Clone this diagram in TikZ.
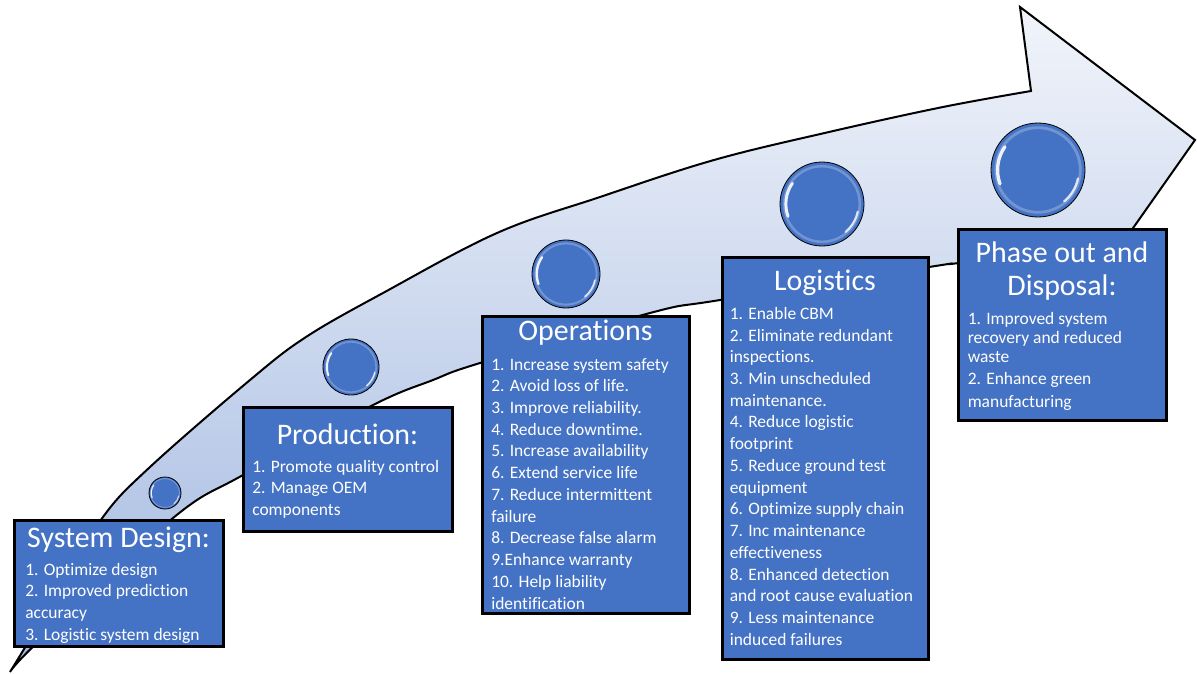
\documentclass[tikz,border=0pt]{standalone}
\usepackage{fontspec}
\setmainfont{Carlito}[Ligatures=NoCommon]
\definecolor{boxblue}{HTML}{4472C4}
\definecolor{arrowtop}{HTML}{F1F4FA}
\definecolor{arrowbot}{HTML}{A3B9E1}
\tikzset{
  panel/.style={draw=black, line width=2.25pt, fill=boxblue, inner sep=0pt},
  ttl/.style={text=white, font=\fontsize{22.4}{25}\selectfont, inner sep=0pt, anchor=base},
  itm/.style={text=white, font=\fontsize{13.1}{16.3}\selectfont, inner sep=0pt, anchor=base west},
  bubble/.style={circle, draw=black, line width=0.6pt, fill=boxblue, inner sep=0pt},
  gloss/.style={white, line cap=round}
}
\newcommand\itemlist[1]{\begin{tabular}[t]{@{}l@{}}#1\end{tabular}}
\newcommand\bubble[4]{%
  \node[bubble, minimum size={1.5*#4pt}] (#1) at (#2,#3) {};
  \begin{scope}[shift={(#1.center)}, x=0.75pt, y=0.75pt]
    \draw[white, opacity=0.25, line width={0.06*#4*0.75pt}] (0,0) circle[radius={0.9*#4}];
    \draw[gloss, opacity=0.9, line width={0.07*#4*0.75pt}] (145:{0.86*#4}) arc[start angle=145, end angle=200, radius={0.86*#4}];
    \draw[gloss, opacity=0.8, line width={0.05*#4*0.75pt}] (-12:{0.87*#4}) arc[start angle=-12, end angle=-50, radius={0.87*#4}];
  \end{scope}}
\begin{document}
\begin{tikzpicture}[x=0.75pt, y=-0.75pt]
\useasboundingbox (0,0) rectangle (1197,674);

% big curved arrow
\path[draw=black, line width=1.5pt, line join=miter, top color=arrowtop, bottom color=arrowbot]
  plot[smooth, tension=0.6] coordinates {(10,672) (60,590) (103,517) (150,467) (250,380) (306,337) (383,293) (497,233) (600,197) (714,160) (829,132) (943,107) (1031,91)}
  -- (1020,7) -- (1195,140) -- (1100,275)
  -- plot[smooth, tension=0.6] coordinates {(1090,247) (959,263) (929,267) (720,300) (650,313) (480,363) (433,380) (373,405) (243,475) (173,518) (40,640) (10,672)}
  -- cycle;

% bubbles
\bubble{c1}{165}{493}{16}
\bubble{c2}{351}{367}{28}
\bubble{c3}{566}{274}{34}
\bubble{c4}{822}{204}{42}
\bubble{c5}{1038}{170}{47}

% System Design
\node[panel, minimum width=156.75pt, minimum height=94.5pt] (sd) at (118.5,583) {};
\node[ttl] (sdt) at (118.5,547) {System Design:};
\node[itm] (sdi) at (25,575) {\itemlist{1. Optimize design\\2. Improved prediction\\accuracy\\3. Logistic system design}};

% Production
\node[panel, minimum width=156.75pt, minimum height=93pt] (pr) at (347.5,469) {};
\node[ttl] (prt) at (347.5,444) {Production:};
\node[itm] (pri) at (252,472) {\itemlist{1. Promote quality control\\2. Manage OEM\\components}};

% Operations
\node[panel, minimum width=155.25pt, minimum height=222.75pt] (op) at (585.5,464.5) {};
\node[ttl] (opt) at (585.5,340) {Operations};
\node[itm] (opi) at (491,370) {\itemlist{1. Increase system safety\\2. Avoid loss of life.\\3. Improve reliability.\\4. Reduce downtime.\\5. Increase availability\\6. Extend service life\\7. Reduce intermittent\\failure\\8. Decrease false alarm\\9.Enhance warranty\\10. Help liability\\identification}};

% Logistics
\node[panel, minimum width=154.5pt, minimum height=301.5pt] (lg) at (825,458) {};
\node[ttl] (lgt) at (825,290.7) {Logistics};
\node[itm] (lgi) at (729.5,319.3) {\itemlist{1. Enable CBM\\2. Eliminate redundant\\inspections.\\3. Min unscheduled\\maintenance.\\4. Reduce logistic\\footprint\\5. Reduce ground test\\equipment\\6. Optimize supply chain\\7. Inc maintenance\\effectiveness\\8. Enhanced detection\\and root cause evaluation\\9. Less maintenance\\induced failures}};

% Phase out and Disposal
\node[panel, minimum width=156pt, minimum height=143.25pt] (ph) at (1062,324.5) {};
\node[ttl] (pht) at (1062,262.3) {\begin{tabular}[t]{@{}c@{}}Phase out and\\Disposal:\end{tabular}};
\node[itm, font=\fontsize{13.1}{14.3}\selectfont] (phi) at (967.5,324.3) {\itemlist{1. Improved system\\recovery and reduced\\waste\\[2.6pt]2. Enhance green\\[2.6pt]manufacturing}};
\end{tikzpicture}
\end{document}
